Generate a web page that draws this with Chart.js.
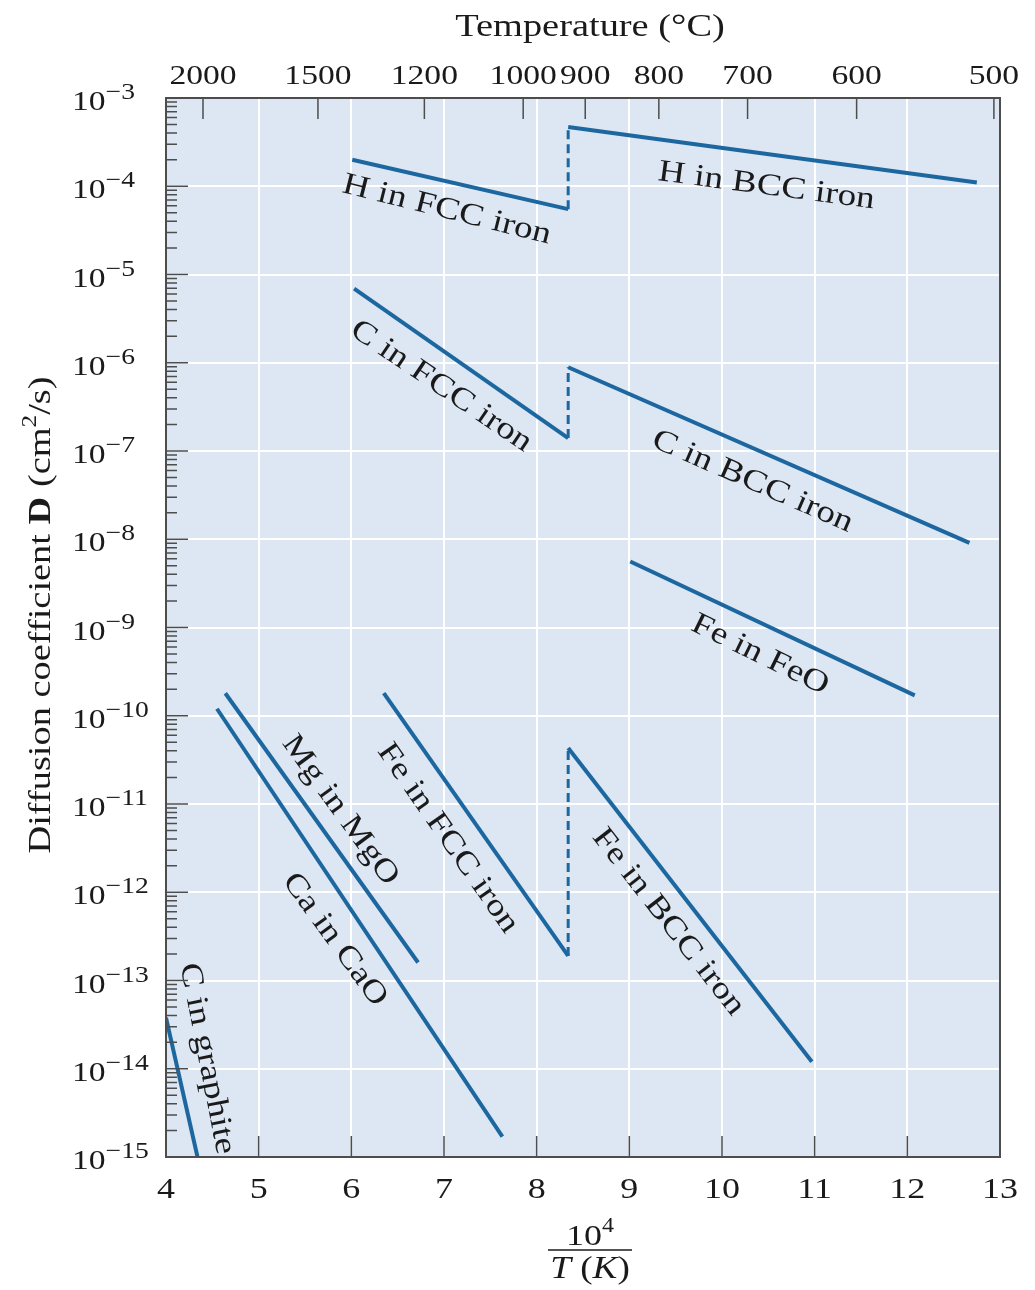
<!DOCTYPE html>
<html lang="en">
<head>
<meta charset="UTF-8">
<title>Diffusion coefficient vs 10^4/T</title>
<script src="https://cdn.jsdelivr.net/npm/chart.js"></script>
<style>
  body { margin: 0; background: #fff; }
  #wrap { width: 1035px; height: 1290px; position: relative; }
</style>
</head>
<body>
<div id="wrap"><canvas id="diffChart"></canvas></div>
<script>
// x = 10^4 / T(K), y = D in cm^2/s
const tempTicksC = [2000, 1500, 1200, 1000, 900, 800, 700, 600, 500];
const yExponents = [-3, -4, -5, -6, -7, -8, -9, -10, -11, -12, -13, -14, -15];

// [x, D] end points
const hFcc = [[6.01, 2.0e-4], [8.34, 5.5e-5]];
const hBcc = [[8.34, 4.7e-4], [12.75, 1.1e-4]];
const cFcc = [[6.03, 6.9e-6], [8.34, 1.4e-7]];
const cBcc = [[8.34, 8.9e-7], [12.67, 9.1e-9]];
const feFcc = [[6.35, 1.8e-10], [8.34, 1.9e-13]];
const feBcc = [[8.34, 4.3e-11], [10.97, 1.2e-14]];
const feInFeO = [[9.01, 5.6e-9], [12.08, 1.7e-10]];
const mgInMgO = [[4.64, 1.8e-10], [6.72, 1.6e-13]];
const caInCaO = [[4.55, 1.2e-10], [7.63, 1.7e-15]];
const cInGraphite = [[4.0, 3.8e-14], [4.34, 1.0e-15]];

// curve labels: text, x, D, angle (deg)
const curveLabels = [
  ['H in FCC iron', 7.03, 5.4e-5, 14],
  ['H in BCC iron', 10.48, 1.0e-4, 7.5],
  ['C in FCC iron', 6.97, 5.4e-7, 34],
  ['C in BCC iron', 10.33, 4.5e-8, 23.5],
  ['Fe in FeO', 10.41, 4.9e-10, 26],
  ['Mg in MgO', 5.88, 8.5e-12, 54],
  ['Ca in CaO', 5.82, 2.9e-13, 54],
  ['Fe in FCC iron', 7.04, 4.1e-12, 55],
  ['Fe in BCC iron', 9.42, 4.6e-13, 52],
  ['C in graphite', 4.44, 1.3e-14, 79]
];

const serif = "'Liberation Serif', 'Times New Roman', serif";
const lineColor = '#1d67a0';
const plotBg = '#dde7f3';
const textColor = '#1a1a1a';
const WIDE = 1.2; // the figure's type is set wide

function pts(list) {
  return list.map(p => ({ x: p[0], y: p[1] }));
}

function ironSet(fcc, bcc) {
  return {
    data: pts(fcc.concat(bcc)),
    segment: {
      borderDash: c => c.p0DataIndex === 1 ? [9, 5] : undefined,
      borderWidth: c => c.p0DataIndex === 1 ? 3 : undefined
    }
  };
}

const datasets = [
  ironSet(hFcc, hBcc),
  ironSet(cFcc, cBcc),
  ironSet(feFcc, feBcc),
  { data: pts(feInFeO) },
  { data: pts(mgInMgO) },
  { data: pts(caInCaO) },
  { data: pts(cInGraphite) }
].map(d => Object.assign({
  showLine: true,
  borderColor: lineColor,
  borderWidth: 4,
  pointRadius: 0,
  borderCapStyle: 'butt',
  borderJoinStyle: 'miter'
}, d));

// parts: [text, font, dy]
function drawRich(ctx, parts, x, y, angle, align, baseline) {
  ctx.save();
  ctx.translate(x, y);
  ctx.rotate((angle || 0) * Math.PI / 180);
  ctx.scale(WIDE, 1);
  ctx.textAlign = 'left';
  ctx.textBaseline = baseline || 'alphabetic';
  let total = 0;
  parts.forEach(p => { ctx.font = p[1]; total += ctx.measureText(p[0]).width; });
  let cx = align === 'left' ? 0 : align === 'right' ? -total : -total / 2;
  parts.forEach(p => {
    ctx.font = p[1];
    ctx.fillText(p[0], cx, p[2] || 0);
    cx += ctx.measureText(p[0]).width;
  });
  ctx.restore();
}

const decor = {
  id: 'decor',
  beforeDraw(chart) {
    const { ctx, chartArea: a } = chart;
    ctx.save();
    ctx.fillStyle = plotBg;
    ctx.fillRect(a.left, a.top, a.right - a.left, a.bottom - a.top);
    ctx.restore();
  },
  afterDraw(chart) {
    const { ctx, chartArea: a } = chart;
    const xs = chart.scales.x, xt = chart.scales.x2, ys = chart.scales.y;
    ctx.save();
    ctx.fillStyle = textColor;

    // curve labels
    curveLabels.forEach(([txt, x, d, ang]) => {
      drawRich(ctx, [[txt, '31px ' + serif]], xs.getPixelForValue(x), ys.getPixelForValue(d), ang, 'center', 'middle');
    });

    // frame and inside ticks
    ctx.strokeStyle = '#4d4d4d';
    ctx.lineWidth = 2;
    ctx.strokeRect(a.left, a.top, a.right - a.left, a.bottom - a.top);
    ctx.lineWidth = 1.5;
    ctx.beginPath();
    xs.ticks.forEach(t => {
      if (t.value <= xs.min || t.value >= xs.max) return;
      const px = xs.getPixelForValue(t.value);
      ctx.moveTo(px, a.bottom); ctx.lineTo(px, a.bottom - 21);
    });
    xt.ticks.forEach(t => {
      const px = xt.getPixelForValue(t.value);
      ctx.moveTo(px, a.top); ctx.lineTo(px, a.top + 21);
    });
    yExponents.forEach(e => {
      const py = ys.getPixelForValue(Math.pow(10, e));
      ctx.moveTo(a.left, py); ctx.lineTo(a.left + 22, py);
      if (e > -15) {
        for (let m = 2; m <= 9; m++) {
          const pm = ys.getPixelForValue(m * Math.pow(10, e - 1));
          ctx.moveTo(a.left, pm); ctx.lineTo(a.left + 11, pm);
        }
      }
    });
    ctx.stroke();

    // bottom tick labels
    xs.ticks.forEach(t => {
      drawRich(ctx, [[String(t.value), '30px ' + serif]], xs.getPixelForValue(t.value), 1198, 0, 'center');
    });
    // top tick labels (deg C)
    xt.ticks.forEach((t, i) => {
      drawRich(ctx, [[String(tempTicksC[i]), '28px ' + serif]], xt.getPixelForValue(t.value), 84, 0, 'center');
    });
    drawRich(ctx, [['Temperature (\u00b0C)', '32px ' + serif]], 590, 28, 0, 'center', 'middle');

    // y tick labels 10^n
    yExponents.forEach(e => {
      const py = ys.getPixelForValue(Math.pow(10, e));
      drawRich(ctx, [['10', '28px ' + serif], ['\u2212' + Math.abs(e), '23px ' + serif, -11]], 72, py + 12, 0, 'left');
    });

    // y axis title
    drawRich(ctx, [
      ['Diffusion coefficient ', '32px ' + serif],
      ['D', 'bold 32px ' + serif],
      [' (cm', '32px ' + serif],
      ['2', '21px ' + serif, -12],
      ['/s)', '32px ' + serif]
    ], 42, 615, -90, 'center', 'middle');

    // x axis title: 10^4 / T (K)
    const fx = 590;
    drawRich(ctx, [['10', '30px ' + serif], ['4', '20px ' + serif, -13]], fx, 1245, 0, 'center');
    ctx.strokeStyle = textColor;
    ctx.lineWidth = 1.5;
    ctx.beginPath();
    ctx.moveTo(fx - 42, 1250); ctx.lineTo(fx + 42, 1250);
    ctx.stroke();
    drawRich(ctx, [
      ['T', 'italic 31px ' + serif],
      [' (', '31px ' + serif],
      ['K', 'italic 31px ' + serif],
      [')', '31px ' + serif]
    ], fx, 1278, 0, 'center');

    ctx.restore();
  }
};

new Chart(document.getElementById('diffChart'), {
  type: 'scatter',
  data: { datasets: datasets },
  options: {
    responsive: true,
    maintainAspectRatio: false,
    animation: false,
    layout: { padding: { left: 0, right: 35, top: 0, bottom: 0 } },
    plugins: { legend: { display: false }, tooltip: { enabled: false } },
    scales: {
      x: {
        type: 'linear',
        position: 'bottom',
        min: 4,
        max: 13,
        ticks: { stepSize: 1, display: false },
        grid: { color: '#ffffff', lineWidth: 2, drawTicks: false },
        border: { display: false },
        afterFit: s => { s.height = 133; }
      },
      x2: {
        type: 'linear',
        position: 'top',
        min: 4,
        max: 13,
        afterBuildTicks: s => { s.ticks = tempTicksC.map(t => ({ value: 1e4 / (t + 273.15) })); },
        ticks: { display: false },
        grid: { display: false },
        border: { display: false },
        afterFit: s => { s.height = 98; }
      },
      y: {
        type: 'logarithmic',
        min: 1e-15,
        max: 1e-3,
        afterBuildTicks: s => { s.ticks = yExponents.map(e => ({ value: Math.pow(10, e) })); },
        ticks: { display: false },
        grid: { color: '#ffffff', lineWidth: 2, drawTicks: false },
        border: { display: false },
        afterFit: s => { s.height = undefined; s.width = 166; }
      }
    }
  },
  plugins: [decor]
});
</script>
</body>
</html>
